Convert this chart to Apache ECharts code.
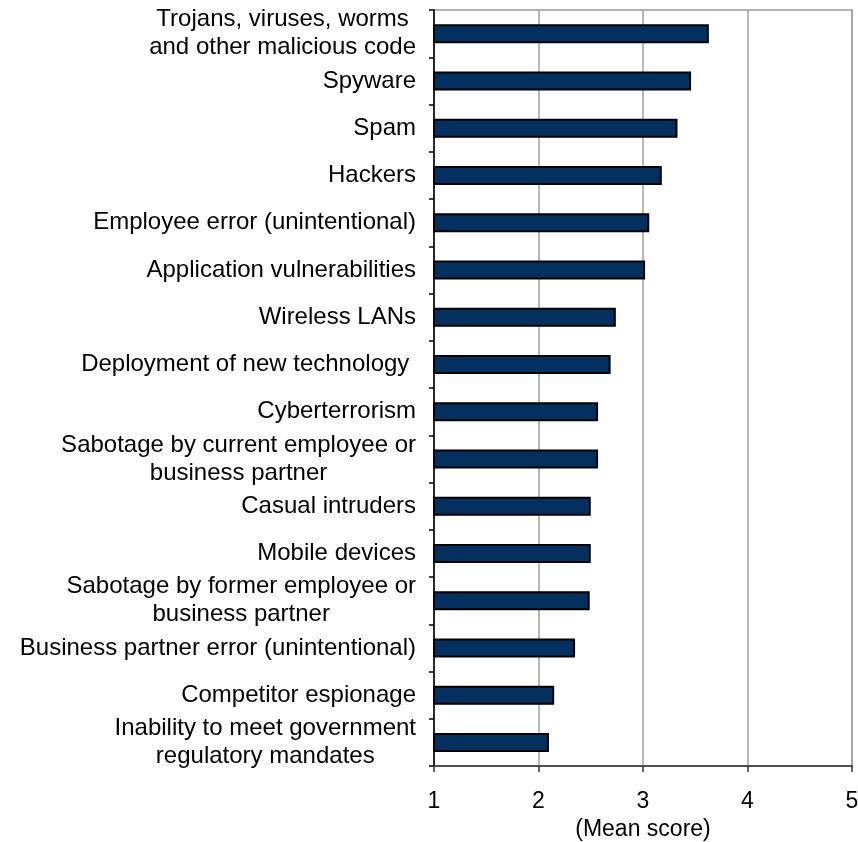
<!DOCTYPE html>
<html lang="en">

<head>
  <meta charset="UTF-8">
  <title>Mean score</title>
  <script src="https://cdn.jsdelivr.net/npm/echarts@6/dist/echarts.min.js"></script>
  <style>
    * {
      margin: 0;
      padding: 0;
    }

    #chart {
      width: 858px;
      height: 842px;
      background: #fff;
    }
  </style>
</head>

<body>
  <div id="chart"></div>
</body>

<script>
  // categories, top to bottom
  var categories = [
    'Trojans, viruses, worms\nand other malicious code',
    'Spyware',
    'Spam',
    'Hackers',
    'Employee error (unintentional)',
    'Application vulnerabilities',
    'Wireless LANs',
    'Deployment of new technology ',
    'Cyberterrorism',
    'Sabotage by current employee or\nbusiness partner',
    'Casual intruders',
    'Mobile devices',
    'Sabotage by former employee or\nbusiness partner',
    'Business partner error (unintentional)',
    'Competitor espionage',
    'Inability to meet government\nregulatory mandates'
  ];

  // mean scores
  var scores = [3.63, 3.46, 3.33, 3.18, 3.06, 3.02, 2.74, 2.69, 2.57, 2.57, 2.50, 2.50, 2.49, 2.35, 2.15, 2.10];

  var xTicks = [1, 2, 3, 4, 5];

  var myChart = echarts.init(document.getElementById('chart'));

  // multi-line labels: block right aligned, lines centred in it
  function labelFmt(value) {
    return value.split('\n').map(function (line) {
      return '{c|' + line + '}';
    }).join('\n');
  }

  var option = {
    animation: false,
    grid: {
      left: 434,
      right: 6,
      top: 10,
      bottom: 76,
      show: true,
      borderColor: '#999',
      borderWidth: 1.5,
      containLabel: false,
      outerBoundsMode: 'none'
    },
    xAxis: {
      type: 'value',
      min: xTicks[0],
      max: xTicks[xTicks.length - 1],
      interval: 1,
      name: '(Mean score)',
      nameLocation: 'middle',
      nameGap: 52,
      nameTextStyle: {
        fontFamily: 'Liberation Sans',
        fontSize: 23,
        color: '#000'
      },
      axisLine: { show: true, lineStyle: { color: '#333', width: 1.5 } },
      axisTick: { show: true, length: 6, lineStyle: { color: '#333', width: 1.5 } },
      axisLabel: {
        margin: 24,
        fontFamily: 'Liberation Sans',
        fontSize: 23,
        color: '#000',
        showMaxLabel: true
      },
      splitLine: { show: true, lineStyle: { color: '#a0a0a0', width: 1.5 } }
    },
    yAxis: {
      type: 'category',
      inverse: true,
      data: categories,
      axisLine: { show: true, lineStyle: { color: '#000', width: 1.5 } },
      axisTick: { show: true, length: 5, alignWithLabel: false, lineStyle: { color: '#000', width: 1.5 } },
      axisLabel: {
        margin: 18,
        interval: 0,
        align: 'right',
        formatter: labelFmt,
        rich: {
          c: {
            align: 'center',
            fontFamily: 'Liberation Sans',
            fontSize: 24,
            lineHeight: 28,
            color: '#000'
          }
        }
      },
      splitLine: { show: false }
    },
    series: [{
      type: 'bar',
      data: scores,
      barWidth: 19,
      itemStyle: {
        color: '#03305f',
        borderColor: '#000',
        borderWidth: 2
      }
    }]
  };

  myChart.setOption(option);
</script>

</html>
